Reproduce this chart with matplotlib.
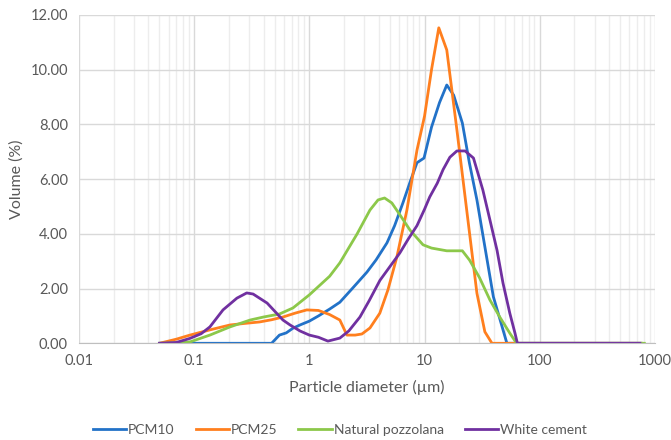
import matplotlib.pyplot as plt
from matplotlib.ticker import FixedLocator, FuncFormatter, LogLocator, NullFormatter

# Particle size distributions
pcm10_x = [0.05, 0.1, 0.2, 0.3, 0.47, 0.55, 0.63, 0.72, 0.83, 1.0, 1.2, 1.5, 1.84,
           2.3, 2.6, 3.16, 3.8, 4.72, 5.5, 6.49, 7.5, 8.6, 9.9, 11.5, 13.5, 15.6,
           17.9, 21.3, 24.5, 28.5, 33, 39.6, 45, 51.9, 60, 100, 300, 760]
pcm10_y = [0, 0, 0, 0, 0, 0.3, 0.38, 0.55, 0.67, 0.81, 1.0, 1.25, 1.5,
           1.95, 2.2, 2.6, 3.05, 3.67, 4.3, 5.13, 5.9, 6.6, 6.77, 7.9, 8.8, 9.44,
           9.07, 8.05, 6.6, 5.24, 3.66, 1.7, 0.9, 0, 0, 0, 0, 0]

pcm25_x = [0.05, 0.07, 0.092, 0.14, 0.205, 0.28, 0.37, 0.47, 0.59, 0.75, 0.95, 1.2,
           1.5, 1.84, 2.12, 2.5, 2.86, 3.36, 4.09, 4.81, 5.75, 7.03, 8.6, 10.0,
           11.5, 13.3, 15.6, 19.1, 23.5, 28.5, 33.4, 38.5, 50, 100, 300, 760]
pcm25_y = [0, 0.15, 0.3, 0.5, 0.67, 0.73, 0.78, 0.86, 0.96, 1.1, 1.22, 1.2,
           1.05, 0.85, 0.3, 0.3, 0.34, 0.56, 1.1, 1.95, 3.15, 4.87, 7.06, 8.3,
           10.0, 11.53, 10.72, 7.8, 4.7, 1.83, 0.42, 0, 0, 0, 0, 0]

pozz_x = [0.05, 0.07, 0.092, 0.137, 0.205, 0.306, 0.4, 0.55, 0.72, 1.0, 1.5, 1.84,
          2.6, 3.36, 3.95, 4.5, 5.2, 6.1, 7.5, 9.7, 11.5, 15.6, 21.3, 24.6, 30,
          37, 45, 55, 63, 100, 300, 810]
pozz_y = [0, 0.02, 0.05, 0.3, 0.6, 0.85, 0.96, 1.07, 1.29, 1.77, 2.45, 2.94,
          4.0, 4.87, 5.24, 5.31, 5.13, 4.7, 4.13, 3.6, 3.48, 3.38, 3.38, 3.04, 2.4,
          1.58, 0.96, 0.37, 0, 0, 0, 0]

white_x = [0.05, 0.07, 0.092, 0.115, 0.137, 0.178, 0.235, 0.286, 0.325, 0.43, 0.59,
           0.68, 0.83, 1.0, 1.2, 1.45, 1.84, 2.2, 2.75, 3.3, 4.1, 5.0, 6.1, 7.2,
           8.6, 10.0, 11.1, 12.9, 14.5, 16.6, 19.1, 22.5, 26.6, 32.1, 37, 42.6,
           48, 55, 61, 64, 100, 300, 741]
white_y = [0, 0.03, 0.18, 0.35, 0.6, 1.22, 1.65, 1.84, 1.8, 1.47, 0.85,
           0.67, 0.45, 0.3, 0.22, 0.08, 0.19, 0.45, 0.96, 1.55, 2.3, 2.8, 3.3, 3.8,
           4.3, 4.9, 5.35, 5.85, 6.35, 6.8, 7.03, 7.03, 6.77, 5.6, 4.5, 3.4,
           2.2, 1.1, 0.37, 0, 0, 0, 0]

x_ticks = [0.01, 0.1, 1, 10, 100, 1000]
x_labels = ['0.01', '0.1', '1', '10', '100', '1000']
y_ticks = [0, 2, 4, 6, 8, 10, 12]

plt.rcParams['font.family'] = ['Lato', 'DejaVu Sans']
grey = '#595959'

fig = plt.figure(figsize=(6.71, 4.4), dpi=100)
ax = fig.add_axes([0.1177, 0.2198, 0.8583, 0.7462])

lw = 2.0
ax.plot(pcm10_x, pcm10_y, color='#2272C8', lw=lw, label='PCM10')
ax.plot(pcm25_x, pcm25_y, color='#FF7F1E', lw=lw, label='PCM25')
ax.plot(pozz_x, pozz_y, color='#8CC84A', lw=lw, label='Natural pozzolana')
ax.plot(white_x, white_y, color='#7030A0', lw=lw, label='White cement')

# Format plot.
ax.set_xscale('log')
ax.set_xlim(0.01, 1000)
ax.set_ylim(0, 12)
ax.xaxis.set_major_locator(FixedLocator(x_ticks))
ax.xaxis.set_major_formatter(FuncFormatter(lambda v, p: x_labels[x_ticks.index(v)] if v in x_ticks else ''))
ax.xaxis.set_minor_locator(LogLocator(base=10, subs=range(2, 10)))
ax.xaxis.set_minor_formatter(NullFormatter())
ax.set_yticks(y_ticks)
ax.yaxis.set_major_formatter(FuncFormatter(lambda v, p: f'{v:.2f}'))

ax.grid(True, which='major', color='#D9D9D9', lw=1.0)
ax.grid(True, which='minor', axis='x', color='#EDEDED', lw=1.0)
ax.set_axisbelow(True)
for s in ['top', 'left', 'right']:
    ax.spines[s].set_visible(False)
ax.spines['bottom'].set_color('#BFBFBF')
ax.tick_params(axis='both', which='both', length=0, labelsize=10.5, labelcolor=grey, pad=8)

ax.set_xlabel('Particle diameter (µm)', fontsize=11.5, color=grey, labelpad=8)
ax.set_ylabel('Volume (%)', fontsize=11.5, color=grey, labelpad=5)

ax.legend(loc='center', bbox_to_anchor=(0.453, -0.265), ncol=4, frameon=False,
          fontsize=10, labelcolor=grey, handlelength=2.4, handletextpad=0.15,
          columnspacing=1.5)

fig.savefig('out.png', dpi=100)
